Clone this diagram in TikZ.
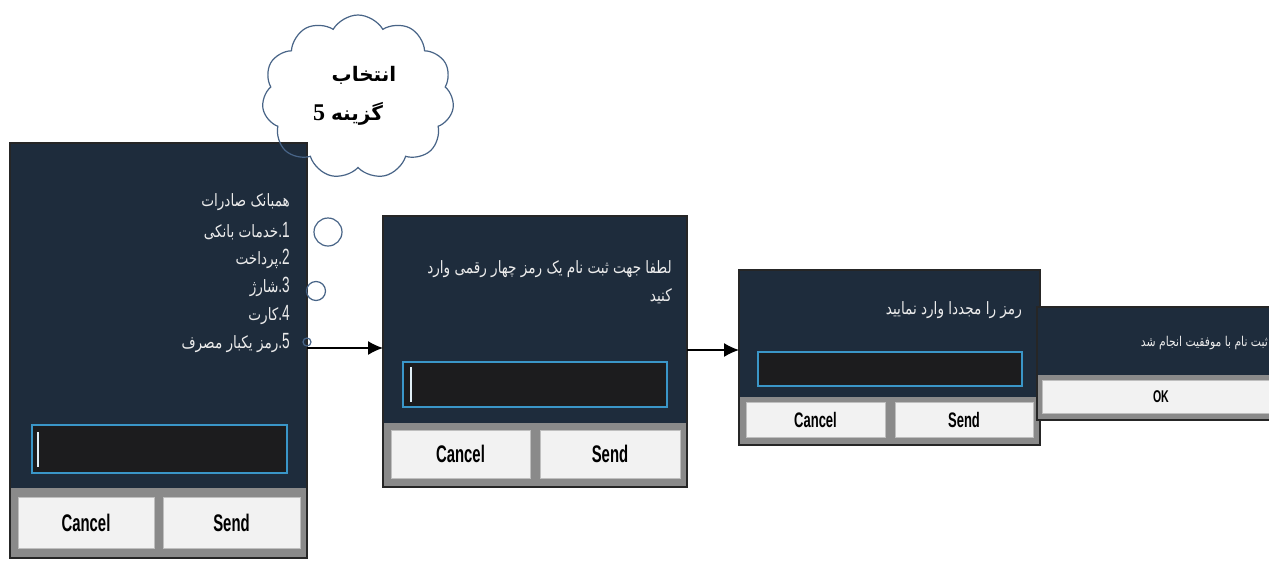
\documentclass[tikz,border=0pt]{standalone}
\usepackage{fontspec}
\setmainfont{Liberation Sans}
\newfontfamily\arabicfont[Script=Arabic,FakeStretch=0.8]{DejaVu Sans}
\newfontfamily\arabicbold[Script=Arabic]{DejaVu Sans}
\newfontfamily\condfont[FakeStretch=0.62]{Liberation Sans}
\newfontfamily\serifnum{Liberation Serif}
\TeXXeTstate=1
\usetikzlibrary{shapes.symbols,arrows.meta}
\definecolor{scrbg}{RGB}{30,44,60}
\definecolor{inpbg}{RGB}{28,28,30}
\definecolor{inpline}{RGB}{58,150,200}
\definecolor{btngray}{RGB}{138,138,138}
\definecolor{btnwhite}{RGB}{242,242,242}
\definecolor{cloudline}{RGB}{72,100,135}
\definecolor{scrtext}{RGB}{236,236,236}
\tikzset{
  screen/.style={fill=scrbg, draw=none, inner sep=0, outer sep=0},
  scrborder/.style={draw=black!85, line width=1.5pt},
  grayarea/.style={fill=btngray, draw=none, inner sep=0, outer sep=0},
  inputbox/.style={fill=inpbg, draw=inpline, line width=1.2pt, inner sep=0, outer sep=0},
  btn/.style={fill=btnwhite, draw=black!25, line width=0.4pt, inner sep=0, outer sep=0, text=black},
  btnlabel/.style={font=\condfont\bfseries\fontsize{24}{26}\selectfont},
  btnlabelsm/.style={font=\condfont\bfseries\fontsize{21}{23}\selectfont},
  scrline/.style={anchor=east, inner sep=0, text=scrtext},
  cursorline/.style={draw=white!85!inpline, line width=1.3pt},
  bubble/.style={draw=cloudline, line width=1.2pt},
  cloudshape/.style={cloud, cloud puffs=11, cloud puff arc=120, aspect=1.18,
     minimum width=192pt, minimum height=164pt, inner sep=0},
  arr/.style={draw=black, line width=1.4pt, -{Latex[length=15pt,width=14pt]}},
}
\newcommand{\ar}[1]{{\arabicfont\beginR #1\endR}}
\newcommand{\nm}[1]{{\condfont\fontsize{22}{24}\selectfont #1}}
\begin{document}
\begin{tikzpicture}[x=1pt,y=-1pt]
\clip (0,0) rectangle (1269,560);
\fill[white] (0,0) rectangle (1269,560);

% cloud fill
\node[cloudshape, fill=white] (cloudfill) at (358,97) {};

% ---------- screen 1 ----------
\node[screen, minimum width=297pt, minimum height=415pt] (s1) at (158.5,350.5) {};
\node[grayarea, minimum width=297pt, minimum height=70pt] (g1) at (158.5,523) {};
\node[inputbox, minimum width=255pt, minimum height=48pt] (i1) at (159.5,449) {};
\draw[cursorline] ([xshift=6pt,yshift=-7pt]i1.north west) -- ([xshift=6pt,yshift=6pt]i1.south west);
\node[btn, btnlabel, minimum width=136pt, minimum height=51pt] (c1) at (86,522.5) {Cancel};
\node[btn, btnlabel, minimum width=137pt, minimum height=51pt] (d1) at (231.5,522.5) {Send};
\draw[scrborder] (s1.north west) rectangle (s1.south east);
\begin{scope}[font=\fontsize{17}{19}\selectfont]
\node[scrline] (l0) at (290,202) {\ar{همبانک صادرات}};
\node[scrline] (l1) at (290,231) {\ar{خدمات بانکی}\nm{.1}};
\node[scrline] (l2) at (290,259) {\ar{پرداخت}\nm{.2}};
\node[scrline] (l3) at (290,287) {\ar{شارژ}\nm{.3}};
\node[scrline] (l4) at (290,315) {\ar{کارت}\nm{.4}};
\node[scrline] (l5) at (290,343) {\ar{رمز یکبار مصرف}\nm{.5}};
\end{scope}

% cloud outline and thought bubbles
\node[cloudshape, bubble] (cloud) at (358,97) {};
\node[font=\arabicbold\bfseries\fontsize{20}{22}\selectfont, inner sep=0] (t1) at (364,75) {\beginR انتخاب\endR};
\node[inner sep=0] (t2) at (348,114) {{\serifnum\bfseries\fontsize{24}{26}\selectfont 5}\hspace{6pt}{\arabicbold\bfseries\fontsize{20}{22}\selectfont\beginR گزینه\endR}};
\node[bubble, circle, minimum size=28pt, inner sep=0] (b1) at (328,232) {};
\node[bubble, circle, minimum size=19pt, inner sep=0] (b2) at (316,291) {};
\node[bubble, circle, minimum size=8pt, inner sep=0] (b3) at (307,342) {};

% ---------- screen 2 ----------
\node[screen, minimum width=304pt, minimum height=271pt] (s2) at (535,351.5) {};
\node[grayarea, minimum width=304pt, minimum height=64pt] (g2) at (535,455) {};
\node[inputbox, minimum width=264pt, minimum height=45pt] (i2) at (535,384.5) {};
\draw[cursorline] ([xshift=8pt,yshift=-5pt]i2.north west) -- ([xshift=8pt,yshift=5pt]i2.south west);
\node[btn, btnlabel, minimum width=139pt, minimum height=48pt] (c2) at (460.5,454) {Cancel};
\node[btn, btnlabel, minimum width=140pt, minimum height=48pt] (d2) at (610,454) {Send};
\draw[scrborder] (s2.north west) rectangle (s2.south east);
\node[scrline, anchor=north east, align=right, font=\fontsize{17}{28}\selectfont] (m2) at (672,260)
  {\ar{لطفا جهت ثبت نام یک رمز چهار رقمی وارد}\\\ar{کنید}};

% ---------- screen 3 ----------
\node[screen, minimum width=301pt, minimum height=175pt] (s3) at (889.5,357.5) {};
\node[grayarea, minimum width=301pt, minimum height=48pt] (g3) at (889.5,421) {};
\node[inputbox, minimum width=264pt, minimum height=34pt] (i3) at (890,369) {};
\node[btn, btnlabelsm, minimum width=139pt, minimum height=35pt] (c3) at (815.5,419.5) {Cancel};
\node[btn, btnlabelsm, minimum width=138pt, minimum height=35pt] (d3) at (964,419.5) {Send};
\draw[scrborder] (s3.north west) rectangle (s3.south east);
\node[scrline, font=\fontsize{17}{19}\selectfont] (m3) at (1022,310) {\ar{رمز را مجددا وارد نمایید}};

% ---------- screen 4 ----------
\node[screen, minimum width=253pt, minimum height=113pt] (s4) at (1163.5,363.5) {};
\node[grayarea, minimum width=253pt, minimum height=45pt] (g4) at (1163.5,397.5) {};
\node[btn, font=\condfont\bfseries\fontsize{17}{19}\selectfont, minimum width=248pt, minimum height=33pt, text width=236pt, align=left] (ok) at (1166,396.5) {\hspace*{105pt}OK};
\draw[scrborder] (s4.north west) rectangle (s4.south east);
\node[scrline, font=\fontsize{13.5}{15}\selectfont] (m4) at (1268,343) {\ar{ثبت نام با موفقیت انجام شد}};

% ---------- arrows ----------
\draw[arr] ([yshift=2.5pt]s1.east) -- ([yshift=2.5pt]s1.east -| s2.west);
\draw[arr] ([yshift=1.5pt]s2.east) -- ([yshift=1.5pt]s2.east -| s3.west);
\end{tikzpicture}
\end{document}
